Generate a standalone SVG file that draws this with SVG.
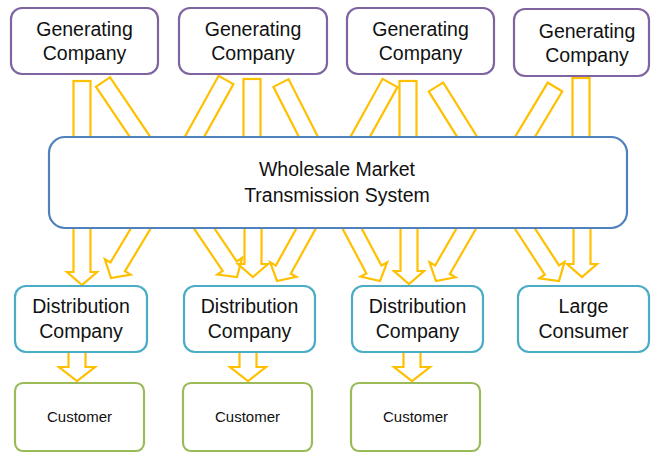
<svg xmlns="http://www.w3.org/2000/svg" xmlns:xlink="http://www.w3.org/1999/xlink" width="651" height="453" viewBox="0 0 651 453">
<style>
.box{fill:#fff;stroke-width:2.2}
.gen{stroke:#8064A2}
.whs{stroke:#4F81BD}
.dist{stroke:#4BACC6}
.cust{stroke:#9BBB59}
.arr{fill:#fff;stroke:#FFC000;stroke-width:2.2;stroke-linejoin:miter}
text{font-family:"Liberation Sans",Arial,sans-serif;fill:#111;text-anchor:middle}
.t{font-size:19.5px}
.s{font-size:15px}
</style>
<defs>
<rect id="shaft" x="-8.5" y="0" width="17" height="80"/>
<path id="ah" d="M-8.5,-80 H8.5 V-13 H15 L0,0 L-15,-13 H-8.5 Z"/>
<path id="ch" d="M-8.5,0 H8.5 V15 H18 L0,29 L-18,15 H-8.5 Z"/>
</defs>
<g id="connectors">
<use xlink:href="#shaft" class="arr" transform="translate(82,81)"/>
<use xlink:href="#shaft" class="arr" transform="translate(103,82) rotate(-34)"/>
<use xlink:href="#shaft" class="arr" transform="translate(226,80) rotate(29)"/>
<use xlink:href="#shaft" class="arr" transform="translate(252,79)"/>
<use xlink:href="#shaft" class="arr" transform="translate(281,83) rotate(-27)"/>
<use xlink:href="#shaft" class="arr" transform="translate(390,83) rotate(29)"/>
<use xlink:href="#shaft" class="arr" transform="translate(408,81)"/>
<use xlink:href="#shaft" class="arr" transform="translate(436,87) rotate(-32)"/>
<use xlink:href="#shaft" class="arr" transform="translate(555,87) rotate(31)"/>
<use xlink:href="#shaft" class="arr" transform="translate(581,78)"/>
<use xlink:href="#ah" class="arr" transform="translate(82,285)"/>
<use xlink:href="#ah" class="arr" transform="translate(111,278) rotate(31)"/>
<use xlink:href="#ah" class="arr" transform="translate(237,277) rotate(-34)"/>
<use xlink:href="#ah" class="arr" transform="translate(253,277)"/>
<use xlink:href="#ah" class="arr" transform="translate(277,281) rotate(29)"/>
<use xlink:href="#ah" class="arr" transform="translate(380,281) rotate(-28)"/>
<use xlink:href="#ah" class="arr" transform="translate(409,284)"/>
<use xlink:href="#ah" class="arr" transform="translate(436,281) rotate(30)"/>
<use xlink:href="#ah" class="arr" transform="translate(559,281) rotate(-33)"/>
<use xlink:href="#ah" class="arr" transform="translate(582,277)"/>
<use xlink:href="#ch" class="arr" transform="translate(77,352)"/>
<use xlink:href="#ch" class="arr" transform="translate(248,352)"/>
<use xlink:href="#ch" class="arr" transform="translate(412,352)"/>
</g>
<g id="wholesale">
<rect class="box whs" x="49" y="137" width="578" height="91" rx="16"/>
<text class="t" x="337" y="176">Wholesale Market</text>
<text class="t" x="337" y="202">Transmission System</text>
</g>
<g id="gen1">
<rect class="box gen" x="11" y="8" width="147" height="66" rx="11"/>
<text class="t" x="84.5" y="36">Generating</text>
<text class="t" x="84.5" y="60">Company</text>
</g>
<g id="gen2">
<rect class="box gen" x="179" y="8" width="148" height="66" rx="11"/>
<text class="t" x="253" y="36">Generating</text>
<text class="t" x="253" y="60">Company</text>
</g>
<g id="gen3">
<rect class="box gen" x="347" y="8" width="147" height="66" rx="11"/>
<text class="t" x="420.5" y="36">Generating</text>
<text class="t" x="420.5" y="60">Company</text>
</g>
<g id="gen4">
<rect class="box gen" x="514" y="9" width="135" height="67" rx="11"/>
<text class="t" x="587" y="38">Generating</text>
<text class="t" x="587" y="62">Company</text>
</g>
<g id="dist1">
<rect class="box dist" x="15" y="286" width="132" height="66" rx="11"/>
<text class="t" x="81" y="313">Distribution</text>
<text class="t" x="81" y="338">Company</text>
</g>
<g id="dist2">
<rect class="box dist" x="184" y="286" width="131" height="66" rx="11"/>
<text class="t" x="249.5" y="313">Distribution</text>
<text class="t" x="249.5" y="338">Company</text>
</g>
<g id="dist3">
<rect class="box dist" x="352" y="286" width="131" height="66" rx="11"/>
<text class="t" x="417.5" y="313">Distribution</text>
<text class="t" x="417.5" y="338">Company</text>
</g>
<g id="large">
<rect class="box dist" x="518" y="286" width="131" height="66" rx="11"/>
<text class="t" x="583.5" y="313">Large</text>
<text class="t" x="583.5" y="338">Consumer</text>
</g>
<g id="cust1">
<rect class="box cust" x="15" y="383" width="129" height="68" rx="8"/>
<text class="s" x="79.5" y="422">Customer</text>
</g>
<g id="cust2">
<rect class="box cust" x="183" y="383" width="129" height="68" rx="8"/>
<text class="s" x="247.5" y="422">Customer</text>
</g>
<g id="cust3">
<rect class="box cust" x="351" y="383" width="129" height="68" rx="8"/>
<text class="s" x="415.5" y="422">Customer</text>
</g>
</svg>
